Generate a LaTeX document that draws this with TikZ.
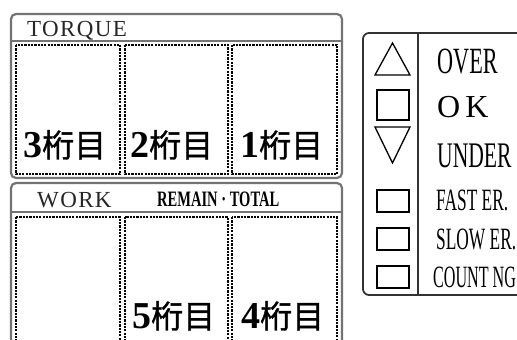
\documentclass[tikz,border=0pt]{standalone}
\usepackage{fontspec}
\setmainfont{Liberation Serif}
\newfontfamily\jpfont[FakeBold=1.2]{Noto Sans CJK JP}
\newfontfamily\narrowfont[FakeStretch=0.6]{Liberation Serif}
\newfontfamily\midfont[FakeStretch=0.56]{Liberation Serif}
\newfontfamily\narrowerfont[FakeStretch=0.52]{Liberation Serif}
\newfontfamily\condfont[FakeStretch=0.66]{Liberation Serif}
\newfontfamily\spacedfont[LetterSpace=16]{Liberation Serif}
\newfontfamily\headfont[LetterSpace=6]{Liberation Serif}
\usetikzlibrary{positioning}
\definecolor{frame}{RGB}{115,115,115}
\newcommand{\keta}[1]{{\bfseries\fontsize{38}{38}\selectfont #1}{\jpfont\fontsize{32}{32}\selectfont 桁目}}

\begin{document}
\begin{tikzpicture}[x=1pt,y=-1pt,
  panel/.style={draw=frame,line width=2.2pt,rounded corners=5pt},
  digitbox/.style={draw,line width=2.4pt,dash pattern=on 2.2pt off 1.1pt},
  ketalabel/.style={anchor=base west,inner sep=0pt},
  headlabel/.style={anchor=base west,inner sep=0pt,text=black!85,font=\headfont\fontsize{23}{23}\selectfont},
  lamp/.style={draw,line width=1.3pt},
  lamplabel/.style={anchor=base west,inner sep=0pt}]
\useasboundingbox (0,0) rectangle (517,340);
\clip (0,0) rectangle (517,340);
% torque
\draw[panel] (11,14) rectangle (342,178);
\draw[frame,line width=2.4pt] (11,41) -- (342,41);
\node[headlabel] (torque) at (27,36) {TORQUE};
\draw[digitbox] (16,45) rectangle (120,174);
\draw[digitbox] (125,45) rectangle (228,174);
\draw[digitbox] (232,45) rectangle (337,174);
\node[ketalabel] (t3) at (23,157) {\keta{3}};
\node[ketalabel] (t2) at (130,157) {\keta{2}};
\node[ketalabel] (t1) at (240,157) {\keta{1}};
% work
\draw[panel] (11,183) rectangle (342,360);
\draw[frame,line width=2.4pt] (11,212) -- (342,212);
\node[headlabel] (work) at (37,207) {WORK};
\node[anchor=base west,inner sep=0pt,font=\condfont\bfseries\fontsize{22}{22}\selectfont] (remain) at (157,206) {REMAIN · TOTAL};
\draw[digitbox] (16,217) rectangle (120,360);
\draw[digitbox] (125,217) rectangle (228,360);
\draw[digitbox] (232,217) rectangle (337,360);
\node[ketalabel] (w5) at (132,328) {\keta{5}};
\node[ketalabel] (w4) at (241,328) {\keta{4}};
% lamps
\draw[draw=black!80,line width=1.8pt,rounded corners=6pt] (363,33) rectangle (540,295);
\draw[black!80,line width=1.6pt] (418,33) -- (418,295);
\draw[lamp] (375,75) -- (410,75) -- (392.5,43) -- cycle;
\draw[lamp] (377,90) rectangle (409,120);
\draw[lamp] (375,127) -- (410,127) -- (392.5,163) -- cycle;
\draw[lamp] (377,190) rectangle (409,212);
\draw[lamp] (377,228) rectangle (409,250);
\draw[lamp] (377,266) rectangle (409,288);
\node[lamplabel,font=\narrowfont\fontsize{37}{37}\selectfont] (over) at (437,73) {OVER};
\node[lamplabel,font=\spacedfont\fontsize{32}{32}\selectfont] (ok) at (437,117) {OK};
\node[lamplabel,font=\narrowfont\fontsize{36}{36}\selectfont] (under) at (437,167) {UNDER};
\node[lamplabel,font=\midfont\fontsize{31}{31}\selectfont] (fast) at (436,210) {FAST ER.};
\node[lamplabel,font=\midfont\fontsize{31}{31}\selectfont] (slow) at (436,249) {SLOW ER.};
\node[lamplabel,font=\narrowerfont\fontsize{31}{31}\selectfont] (count) at (433,287) {COUNT NG};
\end{tikzpicture}
\end{document}
